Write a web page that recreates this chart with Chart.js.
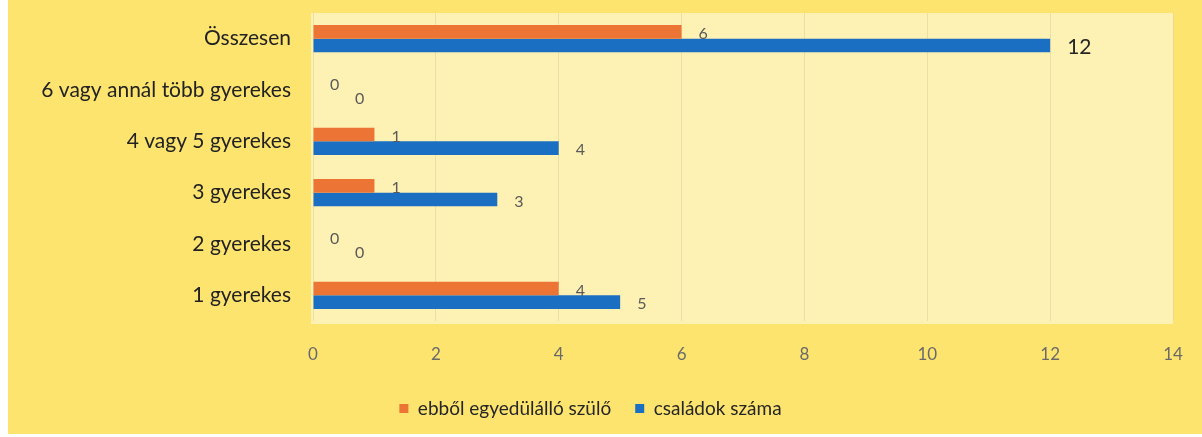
<!DOCTYPE html>
<html>
<head>
<meta charset="utf-8">
<script src="https://cdn.jsdelivr.net/npm/chart.js@4/dist/chart.umd.min.js"></script>
<style>
  html, body { margin: 0; padding: 0; background: #ffffff; }
  .box {
    position: absolute; left: 8px; top: 0;
    width: 1194px; height: 434px;
    background: #fde46f;
  }
</style>
</head>
<body>
<div class="box"><canvas id="chart" width="1194" height="434"></canvas></div>
<script>
// categories, top to bottom as in the picture
const categories = [
  'Összesen',
  '6 vagy annál több gyerekes',
  '4 vagy 5 gyerekes',
  '3 gyerekes',
  '2 gyerekes',
  '1 gyerekes'
]
const egyedulallo = [6, 0, 1, 1, 0, 4]
const csaladok = [12, 0, 4, 3, 0, 5]
const xTicks = [0, 2, 4, 6, 8, 10, 12, 14]

const seriesNames = ['ebből egyedülálló szülő', 'családok száma']
const fontFam = 'Lato, "Open Sans", sans-serif'

// light plot area behind the bars
const plotBg = {
  id: 'plotBg',
  beforeDraw(chart) {
    const { ctx, chartArea: a } = chart
    ctx.save()
    ctx.fillStyle = '#fdf1b3'
    ctx.fillRect(a.left - 2, a.top, a.right - a.left + 2, a.bottom - a.top + 3)
    ctx.restore()
  }
}

// value labels to the right of each bar
const barLabels = {
  id: 'barLabels',
  afterDatasetsDraw(chart) {
    const { ctx } = chart
    ctx.save()
    ctx.textAlign = 'left'
    ctx.textBaseline = 'middle'
    chart.data.datasets.forEach((ds, di) => {
      const meta = chart.getDatasetMeta(di)
      meta.data.forEach((el, i) => {
        const v = ds.data[i]
        let x = el.x + 17
        if (v === 0 && di === 1) x += 25
        const big = di === 1 && v >= 10
        ctx.font = (big ? '21px ' : '16px ') + fontFam
        ctx.fillStyle = big ? '#262626' : '#5a5a5a'
        ctx.fillText(String(v), x, el.y + 2)
      })
    })
    ctx.restore()
  }
}

const ctx = document.getElementById('chart').getContext('2d')
new Chart(ctx, {
  type: 'bar',
  data: {
    labels: categories,
    datasets: [
      {
        label: seriesNames[0],
        data: egyedulallo,
        backgroundColor: '#ec7434',
        categoryPercentage: 0.53,
        barPercentage: 1
      },
      {
        label: seriesNames[1],
        data: csaladok,
        backgroundColor: '#1b6fc3',
        categoryPercentage: 0.53,
        barPercentage: 1
      }
    ]
  },
  options: {
    indexAxis: 'y',
    responsive: false,
    animation: false,
    layout: { padding: { top: 13, right: 29, bottom: 6, left: 0 } },
    scales: {
      x: {
        min: 0,
        max: 14,
        afterBuildTicks: (s) => { s.ticks = xTicks.map(v => ({ value: v })) },
        grid: { color: 'rgba(225, 210, 160, 0.6)', drawTicks: false },
        border: { display: false },
        ticks: { color: '#6a6a6a', padding: 23, font: { family: fontFam, size: 17 } },
        afterFit: (s) => {
          s.height = 54
          s.paddingLeft = 0
          s.paddingRight = 0
        }
      },
      y: {
        grid: { display: false, drawTicks: false },
        border: { display: false },
        ticks: { color: '#222222', padding: 22, font: { family: fontFam, size: 21 } },
        afterFit: (s) => {
          s.width = 305
          s.paddingTop = 0
          s.paddingBottom = 0
        }
      }
    },
    plugins: {
      legend: {
        position: 'bottom',
        labels: {
          boxWidth: 9,
          boxHeight: 9,
          padding: 24,
          color: '#262626',
          font: { family: fontFam, size: 19 }
        }
      },
      tooltip: { enabled: false }
    }
  },
  plugins: [plotBg, barLabels]
})
</script>
</body>
</html>
